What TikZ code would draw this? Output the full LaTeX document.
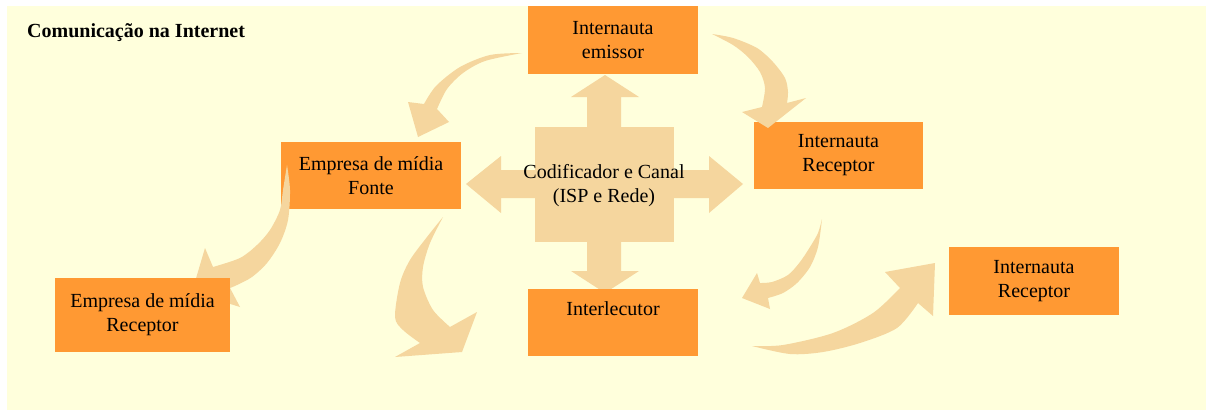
\documentclass[tikz,border=0pt]{standalone}
\usepackage{fontspec}
\setmainfont{Liberation Serif}
\usepackage{tikz}

\definecolor{fundo}{RGB}{255,255,220}
\definecolor{laranja}{RGB}{255,153,51}
\definecolor{bege}{RGB}{245,214,158}

\begin{document}
\begin{tikzpicture}[x=1pt, y=-1pt,
  box/.style={fill=laranja, inner sep=0pt, align=center,
    font=\fontsize{20}{24}\selectfont},
  flow/.style={fill=bege}]
  \useasboundingbox (0,0) rectangle (1206,410);
  \fill[fundo] (7,6) rectangle (1206,410);

  \node[anchor=base west, inner sep=0pt, font=\fontsize{20}{24}\selectfont\bfseries] (titulo) at (27,37) {Comunica\c{c}\~ao na Internet};

  % cruz central
  \fill[flow] (535,127) rectangle (674,242);
  \fill[flow] (466,184) -- (501,156) -- (501,170) -- (709,170) -- (709,156) -- (743,184)
    -- (709,213) -- (709,198) -- (501,198) -- (501,213) -- cycle;
  \fill[flow] (605,75) -- (639,97) -- (621,97) -- (621,271) -- (639,271) -- (605,293)
    -- (571,271) -- (587,271) -- (587,97) -- (571,97) -- cycle;
  \node[align=center, font=\fontsize{20}{24}\selectfont] (canal) at (604,186) {Codificador e Canal\\(ISP e Rede)};

  \node[box, minimum width=170, minimum height=68] (emissor) at (613,40) {Internauta\\emissor};
  \node[box, minimum width=169, minimum height=67] (receptorA) at (838.5,155.5) {Internauta\\Receptor};
  \node[box, minimum width=180, minimum height=67] (fonte) at (371,175.5) {Empresa de m\'idia\\Fonte};
  \node[box, minimum width=170, minimum height=67, text height=14pt, text depth=28pt] (interlecutor) at (613,322.5) {Interlecutor};
  \node[box, minimum width=170, minimum height=68] (receptorB) at (1034,281) {Internauta\\Receptor};

  % setas curvas
  \fill[flow] plot[smooth] coordinates {(522,53) (490,55) (460,67) (436,86) (424,104)}
    -- (408,102) -- (418,137) -- (449,122)
    -- plot[smooth] coordinates {(437,109) (447,89) (463,73) (485,61) (522,53)} -- cycle;
  \fill[flow] plot[smooth] coordinates {(712,34) (733,38) (757,48) (773,62) (785,78) (788,92) (787,103)}
    -- (806,98) -- (768,128) -- (742,112)
    -- plot[smooth] coordinates {(762,107) (765,88) (760,72) (748,57) (733,45) (712,34)} -- cycle;
  \fill[flow] plot[smooth] coordinates {(287,165) (290,190) (288,220) (280,243) (267,263) (252,277) (237,285) (230,288)}
    -- (240,307) -- (192,292) -- (205,248)
    -- plot[smooth] coordinates {(213,267) (240,258) (257,245) (270,230) (280,210) (283,190) (287,165)} -- cycle;
  \fill[flow] plot[smooth] coordinates {(443,217) (427,237) (410,260) (400,283) (395,317) (403,330) (420,343)}
    -- (395,357) -- (462,352) -- (477,312)
    -- plot[smooth] coordinates {(450,327) (433,310) (423,287) (423,267) (430,243) (443,217)} -- cycle;
  \fill[flow] plot[smooth] coordinates {(822,219) (818,233) (810,247) (800,262) (788,275) (772,282) (760,283)}
    -- (757,273) -- (742,298) -- (770,309)
    -- plot[smooth] coordinates {(768,298) (783,293) (797,283) (810,267) (818,247) (822,219)} -- cycle;
  \fill[flow] plot[smooth] coordinates {(752,346) (783,345) (833,333) (873,313) (900,288)}
    -- (885,272) -- (935,263) -- (933,316)
    -- plot[smooth] coordinates {(918,303) (897,328) (860,343) (823,352) (790,354) (752,346)} -- cycle;

  \node[box, minimum width=175, minimum height=74] (empresaRec) at (142.5,315) {Empresa de m\'idia\\Receptor};
\end{tikzpicture}
\end{document}
